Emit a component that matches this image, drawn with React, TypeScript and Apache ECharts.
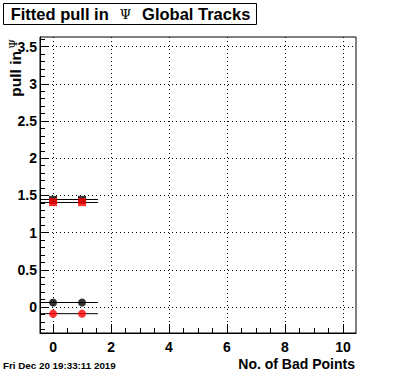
import React, { useEffect, useRef } from "react";
import * as echarts from "echarts";

const xMajorTicks = [0, 2, 4, 6, 8, 10];
const yMajorTicks = [0, 0.5, 1, 1.5, 2, 2.5, 3, 3.5];
const xPoints = [0, 1];
const blackCircleY = [0.06, 0.06];
const redCircleY = [-0.09, -0.09];
const blackSquareY = [1.44, 1.44];
const redSquareY = [1.41, 1.41];
const fitLevels = [0.06, -0.09, 1.445, 1.405];
const fitRange = [-0.45, 1.55];

const X_MIN = -0.45;
const X_MAX = 10.45;
const Y_MIN = -0.35;
const Y_MAX = 3.63;

function range(a: number, b: number, step: number): number[] {
  const out: number[] = [];
  const n = Math.round((b - a) / step);
  for (let i = 0; i <= n; i++) out.push(+(a + i * step).toFixed(4));
  return out;
}
const xMinorTicks = range(0, 10, 0.5);
const yMinorTicks = range(-0.3, 3.6, 0.1);

const FONT = "Liberation Sans, Arial, sans-serif";

export default function App() {
  const ref = useRef<HTMLDivElement>(null);
  useEffect(() => {
    if (!ref.current) return;
    const chart = echarts.init(ref.current, undefined, { renderer: "svg" });
    const pts = (ys: number[]) => xPoints.map((x, i) => [x, ys[i]]);
    const lineSeries = fitLevels.map((v) => ({
      type: "line",
      data: fitRange.map((x) => [x, v]),
      symbol: "none",
      lineStyle: { color: "#000", width: 1 },
      silent: true,
      z: 2,
    }));
    chart.setOption({
      animation: false,
      backgroundColor: "#fff",
      grid: { left: 40, top: 37, right: 40, bottom: 39, show: true, borderColor: "#000", borderWidth: 1 },
      xAxis: [
        {
          type: "value",
          min: X_MIN,
          max: X_MAX,
          position: "bottom",
          axisLine: { show: true, onZero: false, lineStyle: { color: "#000" } },
          axisTick: { show: true, inside: true, length: 9, customValues: xMajorTicks, lineStyle: { color: "#000" } },
          axisLabel: {
            customValues: xMajorTicks,
            color: "#000",
            fontFamily: FONT,
            fontWeight: "bold",
            fontSize: 14,
            margin: 7,
          },
          splitLine: { show: true, lineStyle: { color: "#000", type: [1, 3], width: 1 } },
        },
        {
          type: "value",
          min: X_MIN,
          max: X_MAX,
          position: "bottom",
          axisLine: { show: false, onZero: false },
          axisTick: { show: true, inside: true, length: 5, customValues: xMinorTicks, lineStyle: { color: "#000" } },
          axisLabel: { show: false },
          splitLine: { show: false },
        },
      ],
      yAxis: [
        {
          type: "value",
          min: Y_MIN,
          max: Y_MAX,
          position: "left",
          axisLine: { show: true, onZero: false, lineStyle: { color: "#000" } },
          axisTick: { show: true, inside: true, length: 9, customValues: yMajorTicks, lineStyle: { color: "#000" } },
          axisLabel: {
            customValues: yMajorTicks,
            color: "#000",
            fontFamily: FONT,
            fontWeight: "bold",
            fontSize: 14,
            margin: 3,
          },
          splitLine: { show: true, lineStyle: { color: "#000", type: [1, 3], width: 1 } },
        },
        {
          type: "value",
          min: Y_MIN,
          max: Y_MAX,
          position: "left",
          axisLine: { show: false, onZero: false },
          axisTick: { show: true, inside: true, length: 5, customValues: yMinorTicks, lineStyle: { color: "#000" } },
          axisLabel: { show: false },
          splitLine: { show: false },
        },
      ],
      series: [
        ...lineSeries,
        {
          type: "scatter",
          data: pts(blackSquareY),
          symbol: "rect",
          symbolSize: 8,
          itemStyle: { color: "#000" },
          z: 3,
        },
        {
          type: "scatter",
          data: pts(redSquareY),
          symbol: "rect",
          symbolSize: 8,
          itemStyle: { color: "#ff0000" },
          z: 4,
        },
        {
          type: "scatter",
          data: pts(blackCircleY),
          symbol: "circle",
          symbolSize: 8,
          itemStyle: { color: "#000" },
          z: 3,
        },
        {
          type: "scatter",
          data: pts(redCircleY),
          symbol: "circle",
          symbolSize: 8,
          itemStyle: { color: "#ff0000" },
          z: 3,
        },
      ],
      graphic: [
        {
          type: "rect",
          shape: { x: 3.5, y: 3.5, width: 253, height: 21 },
          style: { fill: "#fff", stroke: "#000", lineWidth: 1 },
        },
        {
          type: "text",
          x: 130.5,
          y: 14,
          style: {
            text: "{a|Fitted pull in}{p|Ψ}{a|Global Tracks}",
            textAlign: "center",
            textVerticalAlign: "middle",
            rich: {
              a: { fontFamily: FONT, fontWeight: "bold", fontSize: 16.5, fill: "#000" },
              p: { fontFamily: "DejaVu Serif, serif", fontSize: 13, fill: "#000", padding: [0, 11, 0, 11] },
            },
          },
        },
        {
          type: "text",
          x: 15,
          y: 51,
          rotation: Math.PI / 2,
          style: {
            text: "pull in",
            textAlign: "right",
            textVerticalAlign: "middle",
            fontFamily: FONT,
            fontWeight: "bold",
            fontSize: 15.5,
            fill: "#000",
          },
        },
        {
          type: "text",
          x: 13,
          y: 44,
          rotation: Math.PI / 2,
          style: {
            text: "Ψ",
            textAlign: "center",
            textVerticalAlign: "middle",
            fontFamily: "DejaVu Serif, serif",
            fontSize: 11,
            fill: "#000",
          },
        },
        {
          type: "text",
          x: 355,
          y: 364,
          style: {
            text: "No. of Bad Points",
            textAlign: "right",
            textVerticalAlign: "middle",
            fontFamily: FONT,
            fontWeight: "bold",
            fontSize: 14,
            fill: "#000",
          },
        },
        {
          type: "text",
          x: 3,
          y: 365,
          style: {
            text: "Fri Dec 20 19:33:11 2019",
            textAlign: "left",
            textVerticalAlign: "middle",
            fontFamily: FONT,
            fontWeight: "bold",
            fontSize: 9.8,
            fill: "#000",
          },
        },
      ],
    });
    return () => chart.dispose();
  }, []);
  return <div ref={ref} style={{ width: 396, height: 372, position: "absolute", left: 0, top: 0 }} />;
}
